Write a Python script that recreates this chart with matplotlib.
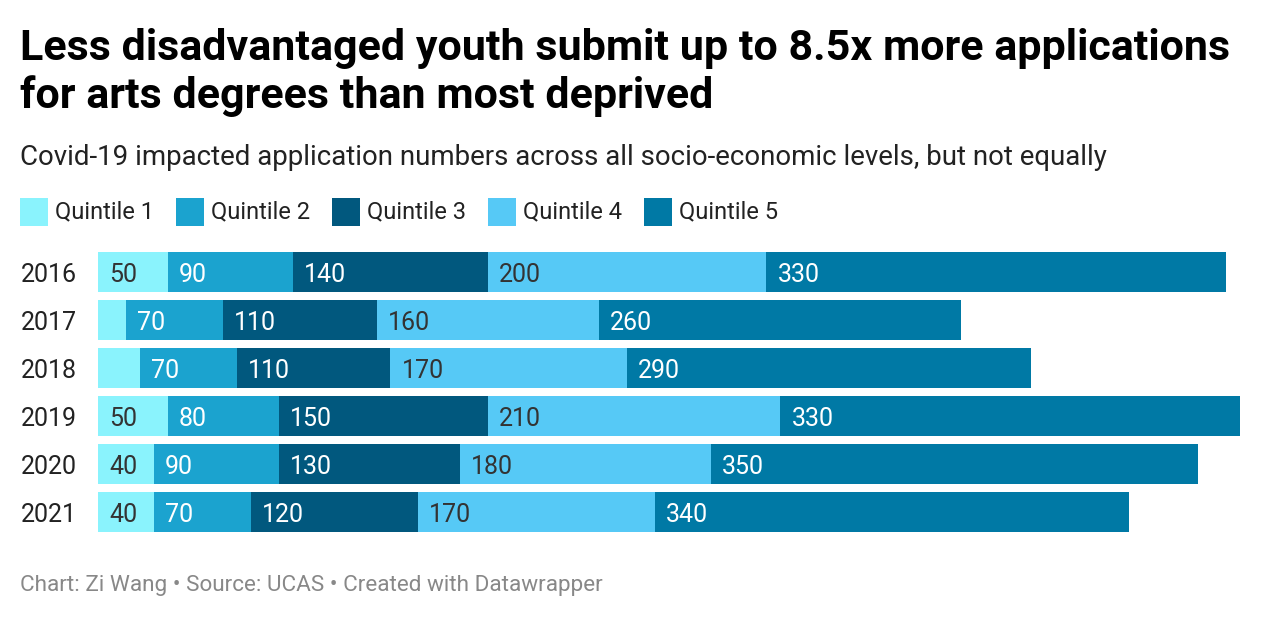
import matplotlib.pyplot as plt
from matplotlib.patches import Rectangle

years = ['2016', '2017', '2018', '2019', '2020', '2021']
quintiles = ['Quintile 1', 'Quintile 2', 'Quintile 3', 'Quintile 4', 'Quintile 5']
q1 = [50, 20, 30, 50, 40, 40]
q2 = [90, 70, 70, 80, 90, 70]
q3 = [140, 110, 110, 150, 130, 120]
q4 = [200, 160, 170, 210, 180, 170]
q5 = [330, 260, 290, 330, 350, 340]
series = [q1, q2, q3, q4, q5]

colors = ['#8af3fd', '#1ba3cf', '#01587e', '#56c9f6', '#0079a5']
label_colors = ['#333333', 'white', 'white', '#333333', 'white']

plt.rcParams['font.family'] = ['Roboto', 'DejaVu Sans']

W, H = 1262, 618
fig = plt.figure(figsize=(W / 100, H / 100), dpi=100)
fig.patch.set_facecolor('white')

# axes: x 98..1240 px, y 248..536 px
ax = fig.add_axes([98 / W, 1 - 536 / H, (1240 - 98) / W, 288 / H])
ax.set_xlim(0, 820)
ax.set_ylim(5.5, -0.5)

left = [0] * len(years)
for vals, c, lc in zip(series, colors, label_colors):
    ax.barh(years, vals, left=left, height=0.833, color=c, linewidth=0)
    for i, v in enumerate(vals):
        if v >= 40:
            ax.annotate(str(v), (left[i], i), xytext=(11, 0), textcoords='offset pixels',
                        ha='left', va='center_baseline', fontsize=18, color=lc)
    left = [a + b for a, b in zip(left, vals)]

ax.set_xticks([])
ax.tick_params(axis='y', length=0, pad=15, labelsize=18, labelcolor='#222222')
for s in ax.spines.values():
    s.set_visible(False)

fig.text(20 / W, 1 - 60 / H, 'Less disadvantaged youth submit up to 8.5x more applications',
         fontsize=31, fontweight='bold', color='#000000', va='baseline')
fig.text(20 / W, 1 - 108 / H, 'for arts degrees than most deprived',
         fontsize=31, fontweight='bold', color='#000000', va='baseline')
fig.text(20 / W, 1 - 165 / H, 'Covid-19 impacted application numbers across all socio-economic levels, but not equally',
         fontsize=19.9, color='#222222', va='baseline')

for k, (name, c) in enumerate(zip(quintiles, colors)):
    x0 = 20 + k * 156
    fig.patches.append(Rectangle((x0 / W, 1 - 226 / H), 28 / W, 28 / H,
                                 transform=fig.transFigure, color=c, linewidth=0))
    fig.text((x0 + 35) / W, 1 - 212 / H, name, fontsize=17, color='#222222', va='center')

fig.text(20 / W, 1 - 591 / H, 'Chart: Zi Wang \u2022 Source: UCAS \u2022 Created with Datawrapper',
         fontsize=16.2, color='#888888', va='baseline')

fig.savefig('out.png', dpi=100)
